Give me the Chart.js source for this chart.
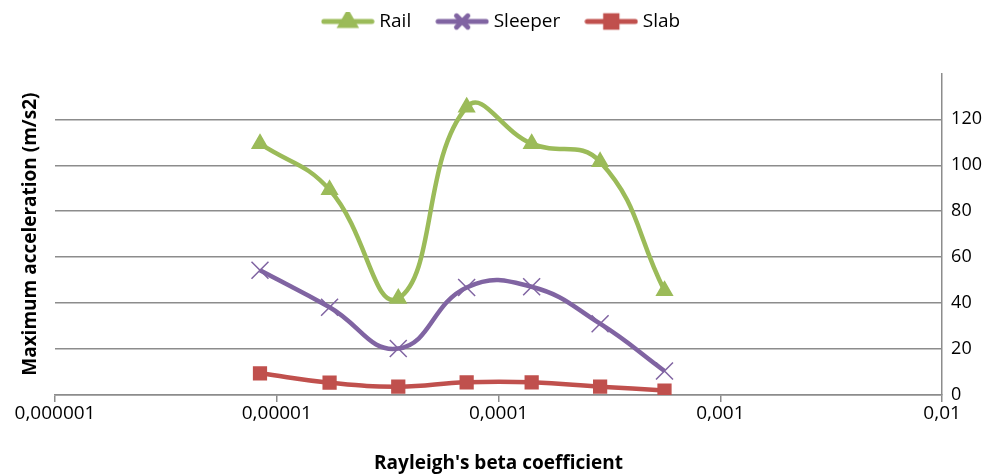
<!DOCTYPE html>
<html>
<head>
<meta charset="utf-8">
<script src="https://cdn.jsdelivr.net/npm/chart.js@4"></script>
<style>
  html, body { margin: 0; padding: 0; background: #fff; }
  #wrap { width: 991px; height: 475px; }
</style>
</head>
<body>
<div id="wrap"><canvas id="chart"></canvas></div>
<script>
// --- DATA ---
const betaValues = [0.0000084, 0.0000173, 0.0000353, 0.0000718, 0.000141, 0.000287, 0.00056];
const railValues = [109.4, 89.3, 42, 125.3, 109.4, 101.5, 45.4];
const sleeperValues = [54.3, 38.2, 20.2, 46.8, 47.1, 31, 10.4];
const slabValues = [9.4, 5.3, 3.6, 5.5, 5.5, 3.6, 1.9];

const xTickValues = [0.000001, 0.00001, 0.0001, 0.001, 0.01];
const xTickLabels = ["0,000001", "0,00001", "0,0001", "0,001", "0,01"];
const yTickValues = [0, 20, 40, 60, 80, 100, 120, 140];

const FONT = "'Open Sans', sans-serif";
const GRID = "#8c8c8c";

const toPoints = vals => vals.map((v, i) => ({ x: betaValues[i], y: v }));

// legend swatch: short line with the marker in the middle
function swatch(color, style) {
  const c = document.createElement("canvas");
  c.width = 54; c.height = 20;
  const ctx = c.getContext("2d");
  ctx.strokeStyle = color;
  ctx.lineWidth = 5;
  ctx.lineCap = "round";
  ctx.beginPath(); ctx.moveTo(3, 10); ctx.lineTo(51, 10); ctx.stroke();
  Chart.helpers.drawPoint(ctx, {
    pointStyle: style, radius: 8, borderWidth: 1.5, rotation: 0
  }, 27, 10);
  ctx.fillStyle = color;
  ctx.fill();
  return c;
}

const series = [
  { label: "Rail", color: "#9BBB59", style: "triangle", radius: 9, values: railValues },
  { label: "Sleeper", color: "#8064A2", style: "crossRot", radius: 12, values: sleeperValues },
  { label: "Slab", color: "#C0504D", style: "rect", radius: 9, values: slabValues }
];

// extra room between the legend and the plot
const legendGap = {
  id: "legendGap",
  beforeInit(chart) {
    const fit = chart.legend.fit;
    chart.legend.fit = function () {
      fit.bind(chart.legend)();
      this.height += 32.4;
    };
  }
};

new Chart(document.getElementById("chart"), {
  type: "line",
  data: {
    datasets: series.map(s => ({
      label: s.label,
      data: toPoints(s.values),
      borderColor: s.color,
      backgroundColor: s.color,
      borderWidth: 4.5,
      pointStyle: s.style,
      pointRadius: s.radius,
      pointBorderWidth: 1.5,
      pointBackgroundColor: s.color,
      pointBorderColor: s.color,
      tension: 0.45,
      fill: false,
      yAxisID: "y"
    }))
  },
  options: {
    responsive: true,
    maintainAspectRatio: false,
    animation: false,
    layout: { padding: { left: 15, right: 0, top: -17, bottom: 0.5 } },
    plugins: {
      legend: {
        position: "top",
        labels: {
          usePointStyle: true,
          pointStyleWidth: 44,
          boxHeight: 18,
          padding: 29,
          color: "#000",
          font: { family: FONT, size: 19 },
          generateLabels: chart => series.map((s, i) => ({
            text: s.label,
            pointStyle: swatch(s.color, s.style),
            fillStyle: s.color,
            strokeStyle: s.color,
            lineWidth: 0,
            datasetIndex: i,
            hidden: false
          }))
        }
      },
      tooltip: { enabled: false }
    },
    scales: {
      x: {
        type: "logarithmic",
        min: 0.000001,
        max: 0.01,
        afterBuildTicks: axis => { axis.ticks = xTickValues.map(v => ({ value: v })); },
        ticks: {
          autoSkip: false,
          maxRotation: 0,
          color: "#000",
          padding: 0,
          font: { family: FONT, size: 19 },
          callback: (v, i) => xTickLabels[i]
        },
        grid: { drawOnChartArea: false, drawTicks: true, tickLength: 7, color: GRID, lineWidth: 1.5 },
        border: { color: GRID, width: 1.5 },
        title: {
          display: true,
          text: "Rayleigh's beta coefficient",
          color: "#000",
          font: { family: FONT, size: 19, weight: "bold" },
          padding: { top: 27, bottom: 0 }
        }
      },
      yTitle: {
        position: "left",
        min: 0,
        max: 140,
        grid: { display: false },
        border: { display: false },
        ticks: { display: false },
        title: {
          display: true,
          text: "Maximum acceleration (m/s2)",
          color: "#000",
          font: { family: FONT, size: 19, weight: "bold" },
          padding: { top: 4, bottom: 5.2 }
        }
      },
      y: {
        position: "right",
        min: 0,
        max: 140,
        afterBuildTicks: axis => { axis.ticks = yTickValues.map(v => ({ value: v })); },
        ticks: {
          color: "#000",
          padding: 9,
          font: { family: FONT, size: 18 },
          callback: v => (v === 140 ? "" : v)
        },
        grid: {
          drawTicks: false,
          lineWidth: 1.5,
          color: ctx => (ctx.tick && ctx.tick.value === 140 ? "rgba(0,0,0,0)" : GRID)
        },
        border: { color: GRID, width: 1.5 }
      }
    }
  },
  plugins: [legendGap]
});
</script>
</body>
</html>
